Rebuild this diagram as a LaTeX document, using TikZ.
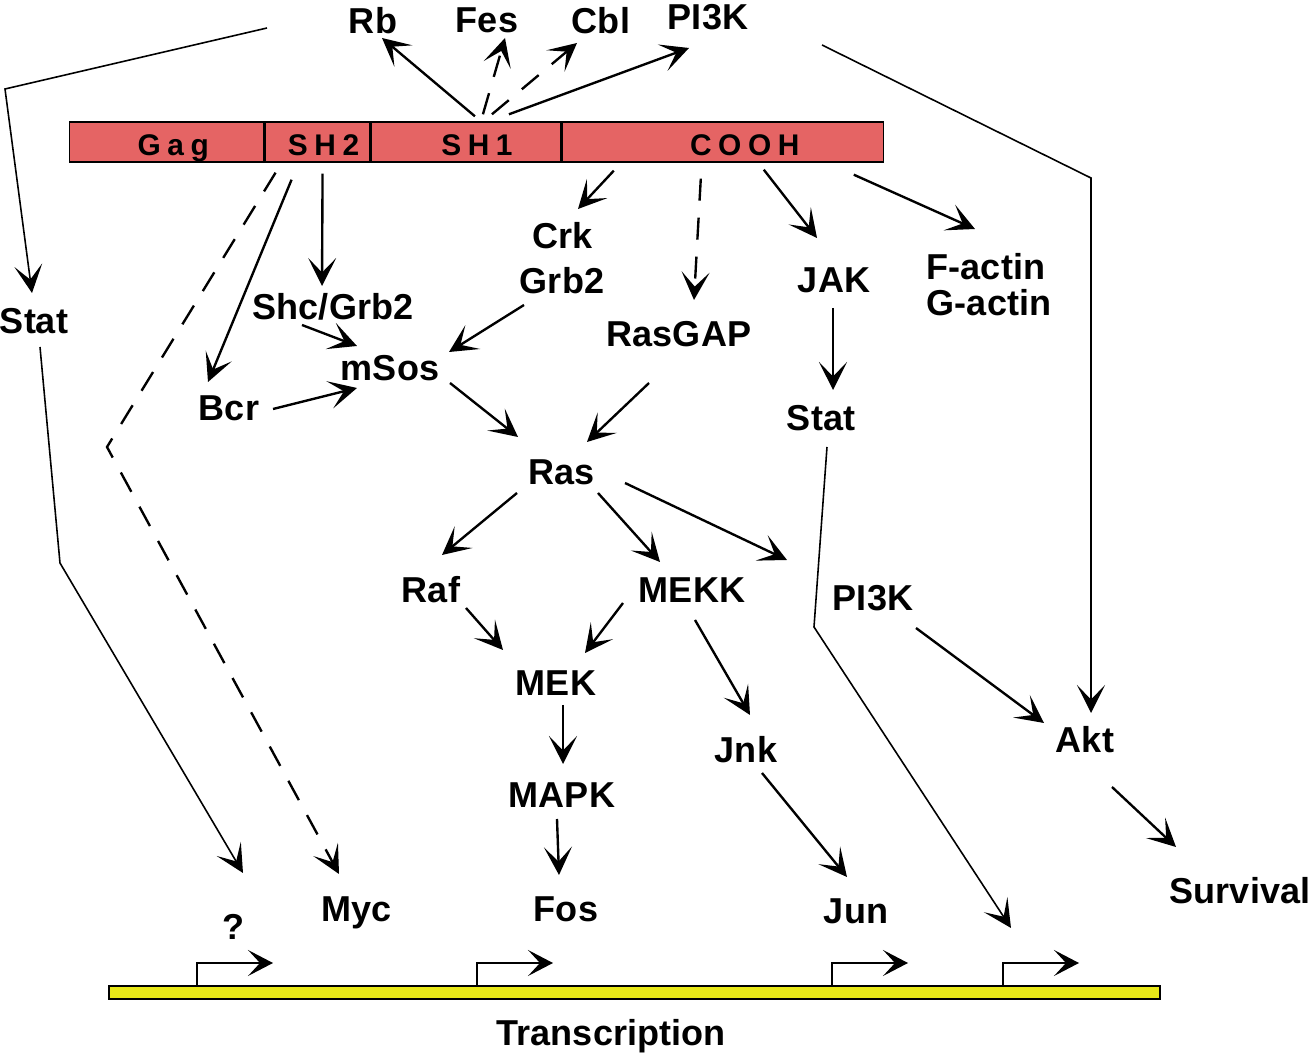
\documentclass[tikz,border=0pt]{standalone}
\usepackage{fontspec}
\setmainfont{Liberation Sans}
\newfontfamily\segfont[LetterSpace=22]{Liberation Sans}
\usepackage{tikz}
\usetikzlibrary{arrows.meta,positioning,calc}
\definecolor{srcred}{RGB}{229,100,100}
\definecolor{dnayel}{RGB}{232,232,24}

\begin{document}
\begin{tikzpicture}[
  x=0.02cm, y=-0.02cm,
  every node/.style={font=\fontsize{20.5}{20.5}\selectfont\bfseries},
  prot/.style={inner sep=0pt, text height=14.7pt, text depth=0pt},
  seg/.style={draw, line width=0.8pt, fill=srcred, minimum height=0.8cm,
              inner sep=0pt, anchor=west},
  segtxt/.style={font=\segfont\fontsize{17}{17}\selectfont\bfseries,
                 inner sep=0pt, text height=12pt, text depth=0pt, yshift=-0.06cm},
  head/.style={-{Stealth[length=0.56cm,width=0.56cm,inset=0.29cm]}},
  link/.style={head, line width=1.35pt},
  maybe/.style={link, dash pattern=on 0.44cm off 0.34cm},
  thinlink/.style={head, line width=0.9pt},
  prom/.style={-{Stealth[length=0.5cm,width=0.52cm,inset=0.24cm]}, line width=0.9pt}
]
\useasboundingbox (0,0) rectangle (1313,1053);

%% ── SRC PROTEIN BAR ─────────────────────────────────────────────
\node[seg, minimum width=3.88cm,
      label={[segtxt, xshift=0.13cm]center:Gag}] (gag) at (69,142) {};
\node[seg, minimum width=2.1cm, right=0pt of gag,
      label={[segtxt, xshift=0.12cm]center:SH2}] (sh2) {};
\node[seg, minimum width=3.78cm, right=0pt of sh2,
      label={[segtxt, xshift=0.22cm]center:SH1}] (sh1) {};
\node[seg, minimum width=6.44cm, right=0pt of sh1,
      label={[segtxt, xshift=0.44cm]center:COOH}] (cooh) {};

%% ── TOP TARGETS ─────────────────────────────────────────────────
\node[prot] (rb)    at (373,21) {Rb};
\node[prot] (fes)   at (487,20) {Fes};
\node[prot] (cbl)   at (601,21) {Cbl};
\node[prot] (pitop) at (708,17) {PI3K};

%% ── SIGNALLING PROTEINS ─────────────────────────────────────────
\node[prot] (stat1) at (34,321)  {Stat};
\node[prot] (shc)   at (333,307) {Shc/Grb2};
\node[prot] (msos)  at (390,368) {mSos};
\node[prot] (bcr)   at (229,408) {Bcr};
\node[prot] (crk)   at (563,236) {Crk};
\node[prot] (grb2)  at (562,281) {Grb2};
\node[prot] (rasgap) at (679,334) {RasGAP};
\node[prot] (jak)   at (834,280) {JAK};
\node[prot, align=left] (factin) at (989,303) {F-actin\\G-actin};
\node[prot] (stat2) at (821,418) {Stat};
\node[prot] (ras)   at (562,472) {Ras};
\node[prot] (raf)   at (431,590) {Raf};
\node[prot] (mekk)  at (692,590) {MEKK};
\node[prot] (pi3k)  at (873,598) {PI3K};
\node[prot] (mek)   at (556,683) {MEK};
\node[prot] (jnk)   at (746,750) {Jnk};
\node[prot] (akt)   at (1085,740) {Akt};
\node[prot] (mapk)  at (562,795) {MAPK};
\node[prot] (survival) at (1240,891) {Survival};

%% ── GENES ───────────────────────────────────────────────────────
\node[prot] (q)   at (233,927) {?};
\node[prot] (myc) at (357,909) {Myc};
\node[prot] (fos) at (566,909) {Fos};
\node[prot] (jun) at (856,911) {Jun};

%% ── DNA + PROMOTERS ─────────────────────────────────────────────
\node[draw, line width=1.2pt, fill=dnayel, minimum width=21.02cm,
      minimum height=0.26cm, inner sep=0pt] (dna) at (634.5,992.5) {};
\node[prot] (transcr) at (611,1033) {Transcription};
\coordinate (p1) at (197,986);
\coordinate (p2) at (477,986);
\coordinate (p3) at (832,986);
\coordinate (p4) at (1003,986);
\foreach \p in {p1,p2,p3,p4}
  \draw[prom] (\p) |- ($(\p)+(76,-23)$);

%% ── FROM SH1 UPWARDS ────────────────────────────────────────────
\draw[link]  ($(sh1.north)+(9,-5)$)  -- ($(rb)+(9,17)$);
\draw[maybe] ($(sh1.north)+(17,-7)$) -- ($(fes)+(18,18)$);
\draw[maybe] ($(sh1.north)+(26,-7)$) -- ($(cbl)+(-24,22)$);
\draw[link]  ($(sh1.north)+(43,-7)$) -- ($(pitop)+(-19,31)$);

%% long side paths
\draw[thinlink] ($(rb)+(-106,7)$) -- (5,89) -- ($(stat1)+(-2,-28)$);
\draw[thinlink] ($(pitop)+(114,28)$) -- (1091,178) -- ($(akt)+(6,-27)$);

%% ── FROM SH2 ────────────────────────────────────────────────────
\draw[maybe] ($(sh2.south)+(-42,10)$) -- (107,447) -- ($(myc)+(-18,-35)$);
\draw[link]  ($(sh2.south)+(-26,17)$) -- ($(bcr)+(-21,-26)$);
\draw[link]  ($(sh2.south)+(5,11)$)   -- ($(shc)+(-11,-21)$);
\draw[link]  ($(shc)+(-31,18)$)  -- ($(msos)+(-33,-22)$);
\draw[link]  ($(bcr)+(44,1)$)    -- ($(msos)+(-33,20)$);
\draw[link]  ($(grb2)+(-38,24)$) -- ($(msos)+(59,-16)$);

%% ── FROM COOH ───────────────────────────────────────────────────
\draw[link]  ($(cooh.south)+(-109,8)$) -- ($(crk)+(15,-27)$);
\draw[maybe] ($(cooh.south)+(-22,16)$) -- ($(rasgap)+(15,-34)$);
\draw[link]  ($(cooh.south)+(41,7)$)   -- ($(jak)+(-17,-42)$);
\draw[link]  ($(cooh.south)+(131,12)$) -- ($(factin)+(-14,-74)$);
\draw[link]  ($(jak)+(-1,28)$) -- ($(stat2)+(12,-28)$);
\draw[thinlink] ($(stat2)+(6,29)$) -- (814,627) -- ($(p4)+(8,-58)$);

%% ── RAS CASCADE ─────────────────────────────────────────────────
\draw[link] ($(msos)+(60,15)$)    -- ($(ras)+(-44,-35)$);
\draw[link] ($(rasgap)+(-30,49)$) -- ($(ras)+(25,-30)$);
\draw[link] ($(ras)+(-45,21)$) -- ($(raf)+(11,-35)$);
\draw[link] ($(ras)+(36,21)$)  -- ($(mekk)+(-32,-28)$);
\draw[link] ($(ras)+(63,11)$)  -- ($(pi3k)+(-86,-38)$);
\draw[link] ($(raf)+(35,18)$)  -- ($(mek)+(-53,-33)$);
\draw[link] ($(mekk)+(-69,13)$) -- ($(mek)+(29,-30)$);
\draw[link] ($(mekk)+(3,30)$)  -- ($(jnk)+(4,-35)$);
\draw[link] ($(mek)+(7,22)$)   -- ($(mapk)+(1,-31)$);
\draw[link] ($(mapk)+(-5,24)$) -- ($(fos)+(-7,-34)$);
\draw[link] ($(jnk)+(16,23)$)  -- ($(jun)+(-9,-34)$);
\draw[link] ($(pi3k)+(43,30)$) -- ($(akt)+(-41,-17)$);
\draw[link] ($(akt)+(27,47)$)  -- ($(survival)+(-64,-44)$);

%% Stat (left) to unknown gene
\draw[thinlink] ($(stat1)+(6,26)$) -- (60,563) -- ($(q)+(10,-54)$);

\end{tikzpicture}
\end{document}
